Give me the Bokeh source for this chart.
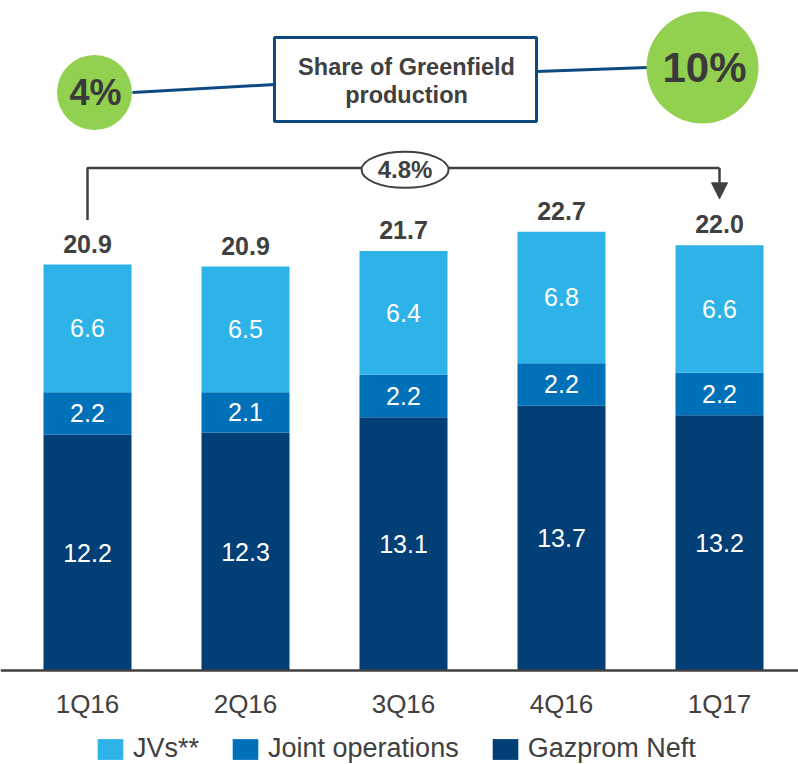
from bokeh.plotting import figure
from bokeh.models import (Range1d, FixedTicker, Legend, LegendItem, Arrow,
                          NormalHead, ColumnDataSource)
from bokeh.core.properties import value
from bokeh.embed import file_html
from bokeh.resources import INLINE

# ---------------- data ----------------
quarters = ["1Q16", "2Q16", "3Q16", "4Q16", "1Q17"]
gazprom_neft = [12.2, 12.3, 13.1, 13.7, 13.2]
joint_operations = [2.2, 2.1, 2.2, 2.2, 2.2]
jvs = [6.6, 6.5, 6.4, 6.8, 6.6]
totals = [20.9, 20.9, 21.7, 22.7, 22.0]
series_names = ["Gazprom Neft", "Joint operations", "JVs**"]
growth_label = "4.8%"
share_start = "4%"
share_end = "10%"
share_title = ["Share of Greenfield", "production"]

# ---------------- style ----------------
FONT = "Liberation Sans"
TXT = "#404040"
C_JV = "#2eb3e8"
C_JO = "#0070b9"
C_GN = "#023f77"
GREEN = "#92d050"
NAVY = "#0d4a80"

W, H = 798, 764
BASE_Y = 670          # pixel row of the baseline
PX_PER_UNIT = 19.33
PITCH = 158.0
FIRST_CENTER = 87.0

xs = list(range(len(quarters)))
src = ColumnDataSource(dict(x=xs, gn=gazprom_neft, jo=joint_operations, jv=jvs))

x0 = -FIRST_CENTER / PITCH
p = figure(frame_width=W, frame_height=H, output_backend="svg", toolbar_location=None,
           x_range=Range1d(x0, x0 + W / PITCH),
           y_range=Range1d(-(H - BASE_Y) / PX_PER_UNIT, BASE_Y / PX_PER_UNIT),
           min_border_left=0, min_border_right=0, min_border_top=0,
           min_border_bottom=0, y_axis_location=None)
p.outline_line_color = None
p.xgrid.visible = False
p.ygrid.visible = False
p.background_fill_color = "white"
p.border_fill_color = "white"

# pixel-space ranges for the decorative header
p.extra_x_ranges = {"px": Range1d(0, W)}
p.extra_y_ranges = {"px": Range1d(H, 0)}

# ---------------- bars ----------------
rs = p.vbar_stack(["gn", "jo", "jv"], x="x", width=88 / PITCH, color=[C_GN, C_JO, C_JV],
                  line_color=None, source=src)

# segment labels
seg_x, seg_y, seg_t = [], [], []
for i in xs:
    base = 0.0
    for v in (gazprom_neft[i], joint_operations[i], jvs[i]):
        seg_x.append(i)
        seg_y.append(base + v / 2)
        seg_t.append(f"{v:.1f}")
        base += v
p.text(x=seg_x, y=seg_y, text=seg_t, text_align="center", text_baseline="middle",
       text_color="white", text_font=value(FONT), text_font_size="25px")

# totals
bar_tops = [a + b + c for a, b, c in zip(gazprom_neft, joint_operations, jvs)]
p.text(x=xs, y=bar_tops, text=[f"{t:.1f}" for t in totals], text_align="center",
       text_baseline="middle", y_offset=-21, text_color=TXT, text_font=value(FONT),
       text_font_size="25px", text_font_style="bold")

# growth bracket
by = bar_tops[-1] + 4.0
p.line(x=[xs[0], xs[0], xs[-1]], y=[totals[0] + 2.4, by, by], line_color=TXT, line_width=2.5)
p.add_layout(Arrow(end=NormalHead(size=16, fill_color=TXT, line_color=TXT),
                   x_start=xs[-1], y_start=by, x_end=xs[-1], y_end=totals[-1] + 2.4,
                   line_color=TXT, line_width=2.5))
mid = (xs[0] + xs[-1]) / 2
p.ellipse(x=[mid + 0.01], y=[by - 0.1], width=87, height=36, width_units="screen",
          height_units="screen", fill_color="white", line_color=TXT, line_width=2)
p.text(x=[mid + 0.01], y=[by - 0.1], text=[growth_label], text_align="center",
       text_baseline="middle", text_color=TXT, text_font=value(FONT),
       text_font_size="24px", text_font_style="bold")

# ---------------- header (Greenfield share) ----------------
p.segment(x0=[132, 536], y0=[92, 71], x1=[274, 647], y1=[84, 67], line_color=NAVY,
          line_width=3, x_range_name="px", y_range_name="px")
p.quad(left=[274], right=[536], top=[37], bottom=[121], fill_color="white",
       line_color=NAVY, line_width=3, x_range_name="px", y_range_name="px")
p.text(x=[406, 406], y=[66, 94], text=share_title, text_align="center",
       text_baseline="middle", text_color=TXT, text_font=value(FONT),
       text_font_size="23.5px", text_font_style="bold", x_range_name="px", y_range_name="px")
p.scatter(x=[94, 702], y=[92, 67], size=[75, 112], fill_color=GREEN, line_color=None,
          x_range_name="px", y_range_name="px")
p.text(x=[95], y=[92], text=[share_start], text_align="center", text_baseline="middle",
       text_color="#3a3a3a", text_font=value(FONT), text_font_size="36px",
       text_font_style="bold", x_range_name="px", y_range_name="px")
p.text(x=[704], y=[67], text=[share_end], text_align="center", text_baseline="middle",
       text_color="#3a3a3a", text_font=value(FONT), text_font_size="42px",
       text_font_style="bold", x_range_name="px", y_range_name="px")

# ---------------- axis (fixed at the baseline) ----------------
ax = p.xaxis[0]
ax.fixed_location = 0
ax.ticker = FixedTicker(ticks=xs)
ax.major_label_overrides = {i: q for i, q in zip(xs, quarters)}
ax.major_tick_line_color = None
ax.minor_tick_line_color = None
ax.major_tick_out = 0
ax.major_tick_in = 0
ax.axis_line_color = TXT
ax.axis_line_width = 2.5
ax.major_label_standoff = 18
ax.major_label_text_font = FONT
ax.major_label_text_font_size = "26px"
ax.major_label_text_color = TXT

# ---------------- legend ----------------
legend = Legend(items=[LegendItem(label=series_names[2], renderers=[rs[2]]),
                       LegendItem(label=series_names[1], renderers=[rs[1]]),
                       LegendItem(label=series_names[0], renderers=[rs[0]])],
                orientation="horizontal", location=(94, 0),
                glyph_width=32, glyph_height=26, label_text_font=FONT,
                label_text_font_size="27px", label_text_color=TXT,
                label_standoff=7, spacing=30, padding=0, margin=0,
                border_line_color=None, background_fill_alpha=0)
p.add_layout(legend)

open("out.html", "w").write(file_html(p, INLINE))
